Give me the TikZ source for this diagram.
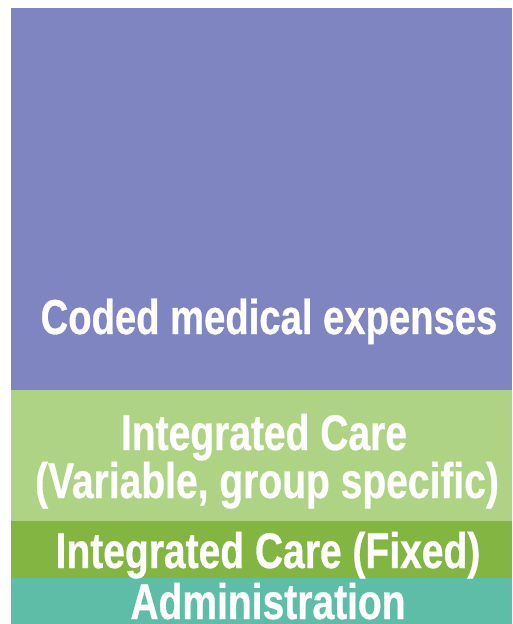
\documentclass[tikz,border=0pt]{standalone}
\usepackage{fontspec}
\newfontfamily\bandfont{Liberation Sans}[FakeStretch=0.78, BoldFeatures={FakeBold=0.6}]
\definecolor{bandpurple}{RGB}{127,133,193}
\definecolor{lightgreen}{RGB}{175,211,132}
\definecolor{darkgreen}{RGB}{130,181,66}
\definecolor{bandteal}{RGB}{93,189,167}
\usetikzlibrary{positioning}

\begin{document}
\begin{tikzpicture}[x=1pt, y=-1pt,
        band/.style={rectangle, draw=none, inner sep=0pt, outer sep=0pt, minimum width=501pt, anchor=north west},
        label/.style={text=white, font=\bandfont\bfseries\fontsize{50}{48}\selectfont, anchor=base, inner sep=0pt}
    ]
        \useasboundingbox (0,0) rectangle (512,624);
        % stacked cost blocks, top to bottom
        \node[band, fill=bandpurple, minimum height=382pt] (CODED) at (11,8) {};
        \node[band, fill=lightgreen, minimum height=131pt] (VARIABLE) at (11,390) {};
        \node[band, fill=darkgreen, minimum height=57pt] (FIXED) at (11,521) {};
        \node[band, fill=bandteal, minimum height=46pt] (ADMIN) at (11,578) {};
        % block labels
        \node[label, font=\bandfont\bfseries\fontsize{49}{48}\selectfont] (CODEDTXT) at (269,334) {Coded medical expenses};
        \node[label] (VARTXT) at (264,450) {Integrated Care};
        \node[label] (VARSUB) at (267,498) {(Variable, group specific)};
        \node[label] (FIXEDTXT) at (268,568) {Integrated Care (Fixed)};
        \node[label] (ADMINTXT) at (268,619) {Administration};
    \end{tikzpicture}
\end{document}
